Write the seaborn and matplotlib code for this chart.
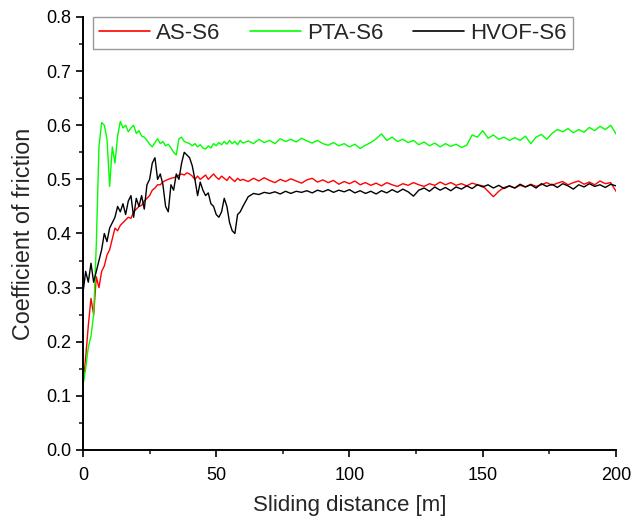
import numpy as np
import pandas as pd
import matplotlib
matplotlib.use("Agg")
import matplotlib.pyplot as plt
from matplotlib.ticker import MultipleLocator
import seaborn as sns

series_names = ["AS-S6", "PTA-S6", "HVOF-S6"]
series_colors = ["#FF0000", "#00FF00", "#000000"]

distance = np.concatenate([np.arange(0, 61, 1), np.arange(62, 201, 2)]).astype(float)

as_s6 = [
    0.12, 0.17, 0.23, 0.28, 0.25, 0.32, 0.30, 0.33, 0.34, 0.36,
    0.37, 0.39, 0.41, 0.405, 0.415, 0.42, 0.425, 0.43, 0.428, 0.44,
    0.445, 0.45, 0.452, 0.46, 0.465, 0.47, 0.48, 0.484, 0.49, 0.49,
    0.495, 0.498, 0.50, 0.502, 0.503, 0.505, 0.508, 0.51, 0.508, 0.512,
    0.51, 0.506, 0.50, 0.506, 0.50, 0.504, 0.508, 0.50, 0.505, 0.51,
    0.504, 0.50, 0.506, 0.502, 0.498, 0.505, 0.50, 0.496, 0.502, 0.498,
    0.50,
    0.496, 0.502, 0.497, 0.503, 0.498, 0.494, 0.50, 0.496, 0.501, 0.497,
    0.493, 0.499, 0.502, 0.495, 0.499, 0.494, 0.498, 0.491, 0.496, 0.492,
    0.497, 0.49, 0.494, 0.489, 0.493, 0.488, 0.494, 0.49, 0.487, 0.492,
    0.489, 0.494, 0.49, 0.487, 0.492, 0.489, 0.495, 0.49, 0.494, 0.489,
    0.492, 0.488, 0.493, 0.49, 0.488, 0.478, 0.468, 0.478, 0.485, 0.488,
    0.484, 0.489, 0.486, 0.491, 0.487, 0.49, 0.494, 0.489, 0.493, 0.496,
    0.49, 0.494, 0.497, 0.491, 0.495, 0.49, 0.497, 0.492, 0.494, 0.478,
]

pta_s6 = [
    0.12, 0.15, 0.19, 0.21, 0.25, 0.38, 0.56, 0.605, 0.60, 0.575,
    0.487, 0.56, 0.53, 0.58, 0.607, 0.595, 0.60, 0.588, 0.595, 0.60,
    0.585, 0.59, 0.58, 0.578, 0.572, 0.565, 0.56, 0.568, 0.575, 0.566,
    0.57, 0.562, 0.565, 0.558, 0.55, 0.545, 0.575, 0.578, 0.57, 0.568,
    0.566, 0.562, 0.566, 0.56, 0.564, 0.558, 0.556, 0.562, 0.558, 0.566,
    0.562, 0.568, 0.564, 0.57, 0.565, 0.572, 0.566, 0.57, 0.564, 0.572,
    0.567,
    0.571, 0.566, 0.574, 0.568, 0.572, 0.566, 0.575, 0.57, 0.574, 0.569,
    0.576, 0.571, 0.567, 0.572, 0.566, 0.563, 0.568, 0.562, 0.566, 0.56,
    0.565, 0.557, 0.563, 0.568, 0.575, 0.584, 0.572, 0.578, 0.57, 0.574,
    0.568, 0.572, 0.564, 0.569, 0.562, 0.567, 0.56, 0.566, 0.561, 0.565,
    0.559, 0.563, 0.582, 0.578, 0.59, 0.576, 0.582, 0.574, 0.578, 0.572,
    0.577, 0.572, 0.58, 0.566, 0.578, 0.583, 0.574, 0.585, 0.592, 0.588,
    0.594, 0.586, 0.592, 0.587, 0.596, 0.59, 0.598, 0.592, 0.60, 0.584,
]

hvof_s6 = [
    0.29, 0.33, 0.31, 0.345, 0.31, 0.33, 0.35, 0.37, 0.40, 0.385,
    0.41, 0.42, 0.43, 0.45, 0.44, 0.455, 0.435, 0.46, 0.47, 0.43,
    0.465, 0.45, 0.47, 0.445, 0.49, 0.50, 0.53, 0.54, 0.50, 0.51,
    0.49, 0.45, 0.44, 0.49, 0.48, 0.51, 0.50, 0.53, 0.55, 0.545,
    0.54, 0.525, 0.50, 0.47, 0.495, 0.48, 0.47, 0.475, 0.455, 0.45,
    0.435, 0.43, 0.44, 0.465, 0.45, 0.42, 0.405, 0.40, 0.435, 0.44,
    0.45,
    0.468, 0.474, 0.472, 0.476, 0.474, 0.477, 0.473, 0.478, 0.474, 0.478,
    0.476, 0.479, 0.475, 0.48, 0.477, 0.481, 0.476, 0.48, 0.477, 0.481,
    0.475, 0.479, 0.474, 0.478, 0.473, 0.479, 0.475, 0.481, 0.476, 0.482,
    0.477, 0.469, 0.48, 0.484, 0.478, 0.486, 0.48, 0.485, 0.479, 0.486,
    0.482, 0.488, 0.483, 0.49, 0.486, 0.49, 0.484, 0.489, 0.483, 0.488,
    0.484, 0.491, 0.486, 0.49, 0.484, 0.492, 0.487, 0.491, 0.485, 0.492,
    0.488, 0.482, 0.49, 0.486, 0.492, 0.487, 0.49, 0.485, 0.491, 0.488,
]

y_ticks = [0.0, 0.1, 0.2, 0.3, 0.4, 0.5, 0.6, 0.7, 0.8]
x_ticks = [0, 50, 100, 150, 200]

frames = []
for name, vals in zip(series_names, [as_s6, pta_s6, hvof_s6]):
    frames.append(pd.DataFrame({"distance": distance, "cof": vals, "sample": name}))
df = pd.concat(frames, ignore_index=True)

sns.set_style("ticks")
plt.rcParams["font.family"] = ["Liberation Sans", "DejaVu Sans"]

fig = plt.figure(figsize=(6.32, 5.18), dpi=100)
ax = fig.add_axes([0.1313, 0.1313, 0.8434, 0.8359])

sns.lineplot(data=df, x="distance", y="cof", hue="sample", hue_order=series_names,
             palette=series_colors, estimator=None, linewidth=1.0, ax=ax)

ax.set_xlim(0, 200)
ax.set_ylim(0, 0.8)
ax.set_xticks(x_ticks)
ax.set_yticks(y_ticks)
ax.set_yticklabels([f"{t:.1f}" for t in y_ticks])
ax.xaxis.set_minor_locator(MultipleLocator(25))
ax.yaxis.set_minor_locator(MultipleLocator(0.05))
ax.tick_params(axis="both", which="major", direction="out", length=5, width=1.2,
               labelsize=13, colors="black")
ax.tick_params(axis="x", which="major", pad=7)
ax.tick_params(axis="both", which="minor", direction="out", length=3, width=1.2)
for s in ["top", "right"]:
    ax.spines[s].set_visible(False)
for s in ["left", "bottom"]:
    ax.spines[s].set_linewidth(1.4)
    ax.spines[s].set_color("black")

ax.set_xlabel("Sliding distance [m]", fontsize=16, labelpad=8)
ax.set_ylabel("Coefficient of friction", fontsize=16.8, labelpad=8)

leg = ax.legend(loc="upper left", bbox_to_anchor=(0.019, 1.0), ncol=3, fontsize=16,
                frameon=True, fancybox=False, borderaxespad=0, handlelength=2.3,
                handletextpad=0.3, columnspacing=1.3, borderpad=0.25)
leg.get_frame().set_edgecolor("#808080")
leg.get_frame().set_linewidth(1.0)
for line in leg.get_lines():
    line.set_linewidth(1.2)

fig.savefig("out.png", dpi=100)
